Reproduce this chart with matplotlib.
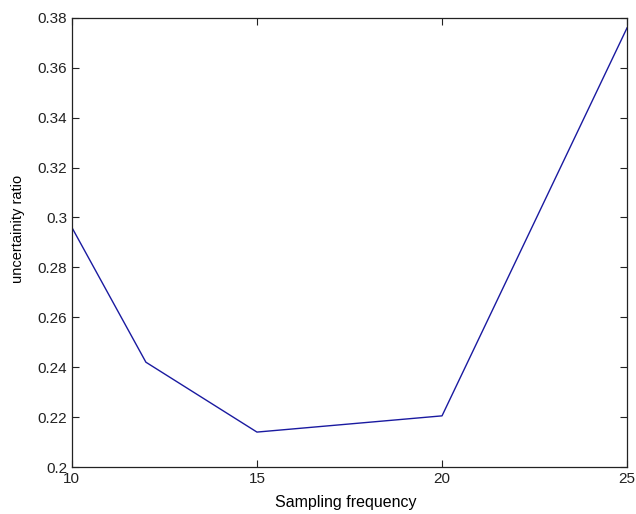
import matplotlib
matplotlib.use("Agg")
import matplotlib.pyplot as plt
from matplotlib.ticker import FuncFormatter

# datos
frecuencia = [10, 12, 15, 20, 25]
ratio = [0.296, 0.242, 0.214, 0.2205, 0.376]
x_ticks = [10, 15, 20, 25]
y_ticks = [0.2, 0.22, 0.24, 0.26, 0.28, 0.3, 0.32, 0.34, 0.36, 0.38]

plt.rcParams['font.family'] = ['Liberation Sans', 'DejaVu Sans']

fig = plt.figure(figsize=(6.36, 5.14), dpi=100)
ax = fig.add_axes([0.113, 0.0914, 0.873, 0.874])

ax.plot(frecuencia, ratio, color='#1a1aa0', linewidth=1.0)

ax.set_xlim(10, 25)
ax.set_ylim(0.2, 0.38)
ax.set_xticks(x_ticks)
ax.set_yticks(y_ticks)
ax.yaxis.set_major_formatter(FuncFormatter(lambda v, p: ('%g' % round(v, 2))))
ax.tick_params(direction='in', length=5, width=0.8, labelsize=11, colors='#222222',
               top=True, right=True, labeltop=False, labelright=False)
for s in ax.spines.values():
    s.set_linewidth(0.9)
    s.set_color('#222222')

# etiquetas de los ejes
ax.set_xlabel('Sampling frequency', fontsize=11.5, va='center')
ax.xaxis.set_label_coords(0.494, -0.078)
ax.set_ylabel('uncertainity ratio', fontsize=10.5, va='center')
ax.yaxis.set_label_coords(-0.097, 0.53)

fig.savefig('out.png', dpi=100)
